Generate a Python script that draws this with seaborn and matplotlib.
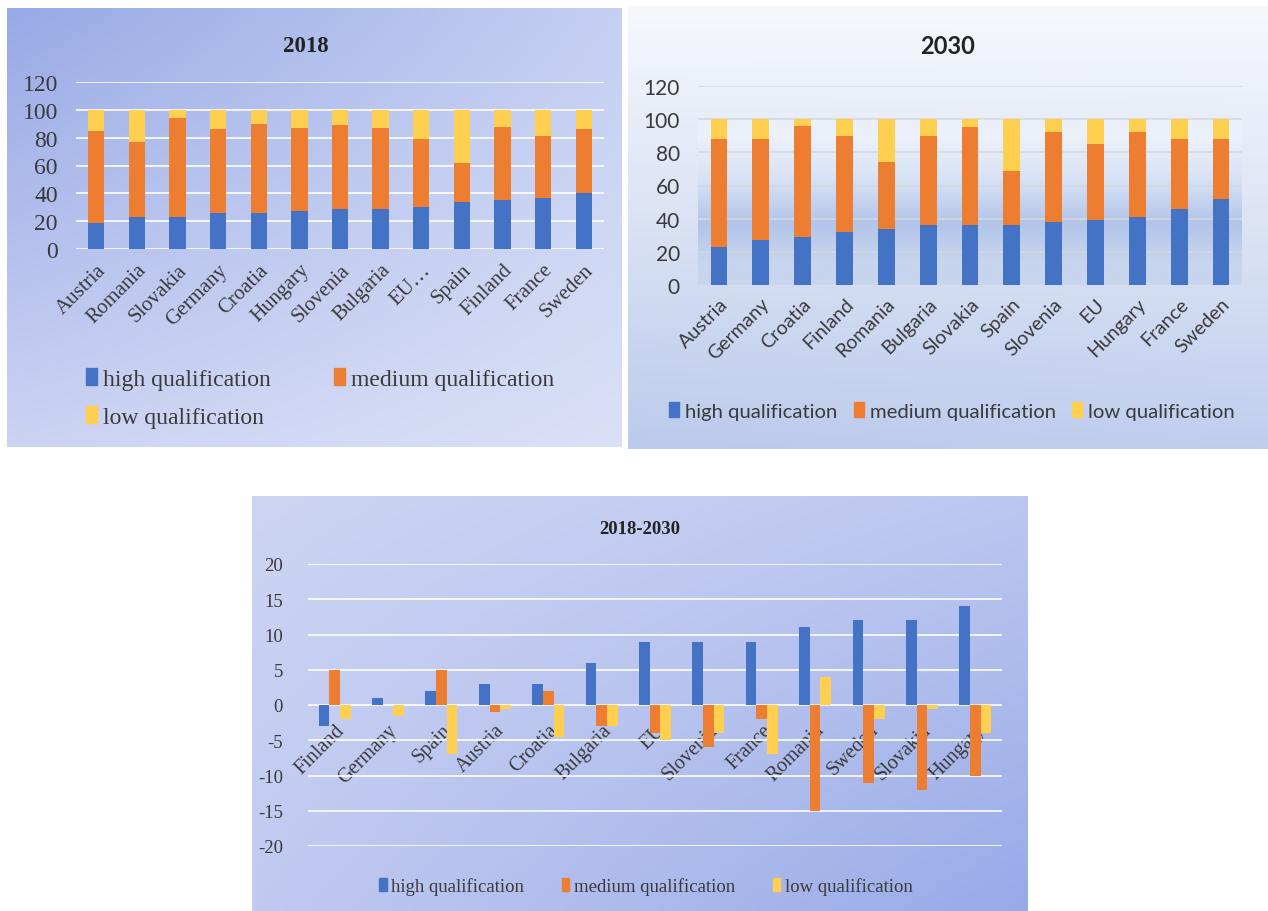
import numpy as np
import pandas as pd
import matplotlib
matplotlib.use("Agg")
import matplotlib.pyplot as plt
from matplotlib.patches import Patch
import seaborn as sns

# ---------------- data ----------------
countries_2018 = ["Austria", "Romania", "Slovakia", "Germany", "Croatia", "Hungary", "Slovenia",
                  "Bulgaria", "EU…", "Spain", "Finland", "France", "Sweden"]
high_2018 = [19, 23, 23, 26, 26, 27, 29, 29, 30, 34, 35, 37, 40]
medium_2018 = [66, 54, 71, 60, 64, 60, 60, 58, 49, 28, 53, 44, 46]
low_2018 = [15, 23, 6, 14, 10, 13, 11, 13, 21, 38, 12, 19, 14]

countries_2030 = ["Austria", "Germany", "Croatia", "Finland", "Romania", "Bulgaria", "Slovakia",
                  "Spain", "Slovenia", "EU", "Hungary", "France", "Sweden"]
high_2030 = [23, 27, 29, 32, 34, 36, 36, 36, 38, 39, 41, 46, 52]
medium_2030 = [65, 61, 67, 58, 40, 54, 59, 33, 54, 46, 51, 42, 36]
low_2030 = [12, 12, 4, 10, 26, 10, 5, 31, 8, 15, 8, 12, 12]

countries_diff = ["Finland", "Germany", "Spain", "Austria", "Croatia", "Bulgaria", "EU",
                  "Slovenia", "France", "Romania", "Sweden", "Slovakia", "Hungary"]
high_diff = [-3, 1, 2, 3, 3, 6, 9, 9, 9, 11, 12, 12, 14]
medium_diff = [5, 0, 5, -1, 2, -3, -4, -6, -2, -15, -11, -12, -10]
low_diff = [-2, -1.5, -7, -0.5, -4.5, -3, -5, -4, -7, 4, -2, -0.5, -4]

series_names = ["high qualification", "medium qualification", "low qualification"]
yticks_stack = [0, 20, 40, 60, 80, 100, 120]
yticks_diff = [-20, -15, -10, -5, 0, 5, 10, 15, 20]

BLUE, ORANGE, YELLOW = "#4472C4", "#ED7D31", "#FFD04F"
TXT = "#3A3A3A"

W, H = 1268, 912
plt.rcParams["axes.unicode_minus"] = False
fig = plt.figure(figsize=(W / 100, H / 100), dpi=100)
fig.patch.set_facecolor("white")

SERIF = ["Liberation Serif", "DejaVu Serif"]
SANS = ["Lato", "DejaVu Sans"]


def px_axes(x0, x1, yt, yb, **kw):
    return fig.add_axes([x0 / W, 1 - yb / H, (x1 - x0) / W, (yb - yt) / H], **kw)


# ---------------- panel backgrounds ----------------
bg = fig.add_axes([0, 0, 1, 1], zorder=-10)
bg.axis("off")


def gradient(x0, x1, y0, y1, tl, tr, bl, br, n=64):
    u = np.linspace(0, 1, n)[None, :, None]
    v = np.linspace(0, 1, n)[:, None, None]
    tl, tr, bl, br = [np.array(c, float)[None, None, :] / 255 for c in (tl, tr, bl, br)]
    img = (1 - v) * ((1 - u) * tl + u * tr) + v * ((1 - u) * bl + u * br)
    bg.imshow(img, extent=(x0, x1, y1, y0), aspect="auto", interpolation="bilinear", zorder=0)


gradient(7, 622, 9, 448, (152, 170, 230), (196, 207, 242), (204, 211, 243), (218, 224, 246))
gradient(628, 1268, 7, 450, (246, 248, 252), (246, 248, 252), (188, 203, 236), (192, 206, 238))
gradient(252, 1028, 497, 912, (206, 213, 243), (188, 199, 240), (192, 201, 241), (152, 171, 232))
bg.set_xlim(0, W)
bg.set_ylim(H, 0)


def stacked(ax, cats, high, med, low, gridc):
    tot_hm = [h + m for h, m in zip(high, med)]
    tot = [h + m + l for h, m, l in zip(high, med, low)]
    sns.barplot(x=cats, y=tot, color=YELLOW, width=0.4, saturation=1, ax=ax, zorder=3)
    sns.barplot(x=cats, y=tot_hm, color=ORANGE, width=0.4, saturation=1, ax=ax, zorder=4)
    sns.barplot(x=cats, y=high, color=BLUE, width=0.4, saturation=1, ax=ax, zorder=5)
    ax.set_ylim(0, 120)
    ax.set_xlim(-0.5, len(cats) - 0.5)
    ax.set_yticks(yticks_stack)
    ax.grid(axis="y", color=gridc, lw=1.2, zorder=0)
    ax.set_axisbelow(True)
    for s in ax.spines.values():
        s.set_visible(False)
    ax.tick_params(length=0)
    ax.set_xlabel("")
    ax.set_ylabel("")


h1 = [Patch(color=c) for c in (BLUE, ORANGE, YELLOW)]

# ---------------- 2018 ----------------
ax1 = px_axes(76, 604, 83, 250)
ax1.patch.set_alpha(0)
stacked(ax1, countries_2018, high_2018, medium_2018, low_2018, (1, 1, 1, 0.55))
ax1.set_yticklabels([str(t) for t in yticks_stack], family=SERIF, fontsize=17, color=TXT)
ax1.tick_params(axis="y", pad=13)
ax1.set_xticks(range(len(countries_2018)))
ax1.set_xticklabels(countries_2018, family=SERIF, fontsize=15, color=TXT, rotation=45,
                    ha="right", rotation_mode="anchor")
ax1.tick_params(axis="x", pad=8)
fig.text(306 / W, 1 - 46 / H, "2018", family=SERIF, fontsize=16.5, fontweight="bold",
         color="#222222", ha="center", va="center")
fig.legend([h1[0], h1[2], h1[1]], [series_names[0], series_names[2], series_names[1]],
           loc="upper left", bbox_to_anchor=(86 / W, 1 - 369 / H), ncol=2,
           frameon=False, prop={"family": SERIF, "size": 17}, handlelength=0.45, handleheight=0.7,
           handletextpad=0.25, columnspacing=2.7, labelspacing=0.7, labelcolor=TXT,
           borderaxespad=0, borderpad=0)

# ---------------- 2030 ----------------
ax2 = px_axes(698, 1242, 87, 286)
ax2.patch.set_alpha(0)
shade = np.array([[235, 240, 250], [215, 225, 245], [178, 197, 233], [200, 213, 238]], float) / 255
ax2.imshow(shade[:, None, :], extent=(-0.5, 12.5, 0, 100), aspect="auto",
           interpolation="bilinear", zorder=0)
stacked(ax2, countries_2030, high_2030, medium_2030, low_2030, "#D4D8E0")
ax2.set_ylim(0, 120)
ax2.set_xlim(-0.5, 12.5)
ax2.set_yticklabels([str(t) for t in yticks_stack], family=SANS, fontsize=15, color=TXT)
ax2.tick_params(axis="y", pad=13)
ax2.set_xticks(range(len(countries_2030)))
ax2.set_xticklabels(countries_2030, family=SANS, fontsize=14, color=TXT, rotation=45,
                    ha="right", rotation_mode="anchor")
ax2.tick_params(axis="x", pad=7)
fig.text(948 / W, 1 - 46 / H, "2030", family=SANS, fontsize=17, fontweight="bold",
         color="#222222", ha="center", va="center")
fig.legend(h1, series_names, loc="center", bbox_to_anchor=(952 / W, 1 - 412 / H), ncol=3,
           frameon=False, prop={"family": SANS, "size": 14.6}, handlelength=0.5, handleheight=0.7,
           handletextpad=0.3, columnspacing=0.8, labelcolor=TXT)

# ---------------- 2018-2030 ----------------
ax3 = px_axes(308, 1002, 565, 847)
ax3.patch.set_alpha(0)
df = pd.DataFrame({
    "country": countries_diff * 3,
    "level": [series_names[0]] * 13 + [series_names[1]] * 13 + [series_names[2]] * 13,
    "value": high_diff + medium_diff + low_diff,
})
sns.barplot(data=df, x="country", y="value", hue="level", order=countries_diff,
            hue_order=series_names, palette=[BLUE, ORANGE, YELLOW], width=0.6, saturation=1,
            errorbar=None, ax=ax3, legend=False, zorder=3)
ax3.set_ylim(-20, 20)
ax3.set_xlim(-0.5, 12.5)
ax3.set_yticks(yticks_diff)
ax3.set_yticklabels([str(t) for t in yticks_diff], family=SERIF, fontsize=13.5, color=TXT)
ax3.grid(axis="y", color=(1, 1, 1, 0.6), lw=1.2, zorder=0)
ax3.set_axisbelow(True)
for s in ax3.spines.values():
    s.set_visible(False)
ax3.spines["bottom"].set_position(("data", 0))
ax3.tick_params(length=0)
ax3.tick_params(axis="y", pad=18)
ax3.set_xticks(range(len(countries_diff)))
ax3.set_xticklabels(countries_diff, family=SERIF, fontsize=14.5, color=TXT, rotation=45,
                    ha="right", rotation_mode="anchor")
ax3.tick_params(axis="x", pad=11)
ax3.set_xlabel("")
ax3.set_ylabel("")
fig.text(640 / W, 1 - 530 / H, "2018-2030", family=SERIF, fontsize=13.5, fontweight="bold",
         color="#222222", ha="center", va="center")
fig.legend(h1, series_names, loc="center", bbox_to_anchor=(646 / W, 1 - 887 / H), ncol=3,
           frameon=False, prop={"family": SERIF, "size": 13.5}, handlelength=0.4, handleheight=0.7,
           handletextpad=0.25, columnspacing=2.0, labelcolor=TXT)

fig.savefig("out.png", dpi=100)
